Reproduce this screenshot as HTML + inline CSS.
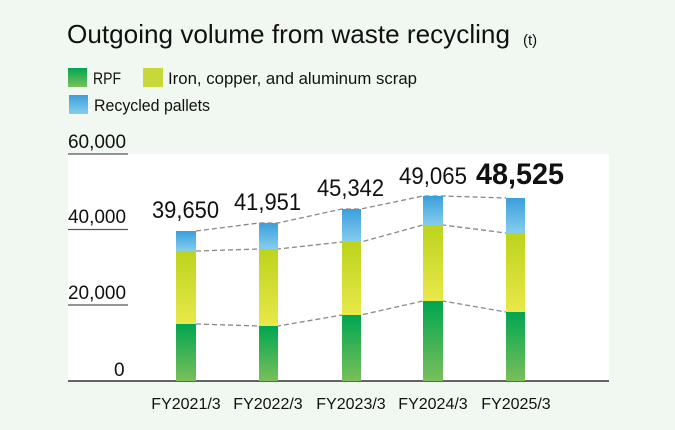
<!DOCTYPE html>
<html><head><meta charset="utf-8"><style>
body{margin:0;background:#f1f8f1;}
svg{display:block;font-family:"Liberation Sans",sans-serif;}
</style></head><body>
<svg width="675" height="430" viewBox="0 0 675 430">
<defs>
<linearGradient id="g" x1="0" y1="0" x2="0" y2="1"><stop offset="0" stop-color="#00a650"/><stop offset="1" stop-color="#7abf5a"/></linearGradient>
<linearGradient id="y" x1="0" y1="0" x2="0" y2="1"><stop offset="0" stop-color="#bcd31c"/><stop offset="1" stop-color="#e9e84a"/></linearGradient>
<linearGradient id="b" x1="0" y1="0" x2="0" y2="1"><stop offset="0" stop-color="#3a9fdc"/><stop offset="1" stop-color="#86cdec"/></linearGradient>
</defs>
<rect width="675" height="430" fill="#f1f8f1"/>
<text x="67" y="43" font-size="26" fill="#111" textLength="443" lengthAdjust="spacingAndGlyphs">Outgoing volume from waste recycling</text>
<text x="523" y="45" font-size="15" fill="#111">(t)</text>
<rect x="68" y="68" width="19" height="19" fill="url(#g)"/>
<text x="93" y="84" font-size="17" fill="#111" textLength="28" lengthAdjust="spacingAndGlyphs">RPF</text>
<rect x="143" y="68" width="20" height="19" fill="#c8d83a"/>
<text x="168" y="84" font-size="17" fill="#111" textLength="249" lengthAdjust="spacingAndGlyphs">Iron, copper, and aluminum scrap</text>
<rect x="69" y="95" width="19" height="19" fill="url(#b)"/>
<text x="94" y="111" font-size="17" fill="#111" textLength="116" lengthAdjust="spacingAndGlyphs">Recycled pallets</text>
<rect x="68" y="154" width="541" height="227" fill="#fff"/>
<g stroke="#555" stroke-width="1.2"><line x1="68" y1="154" x2="128" y2="154"/><line x1="68" y1="229.5" x2="128" y2="229.5"/><line x1="68" y1="305" x2="128" y2="305"/></g>
<line x1="68" y1="381" x2="609" y2="381" stroke="#333" stroke-width="1.5"/>
<g font-size="19" fill="#111"><text x="68" y="148" textLength="58" lengthAdjust="spacingAndGlyphs">60,000</text><text x="68" y="223" textLength="58" lengthAdjust="spacingAndGlyphs">40,000</text><text x="68" y="299" textLength="58" lengthAdjust="spacingAndGlyphs">20,000</text><text x="114" y="376">0</text></g>
<g stroke="#888" stroke-width="1.3" stroke-dasharray="5,3" fill="none">
<polyline points="196,231 259,223 278,223 342,209 361,209 423,196 443,196 506,198"/>
<polyline points="196,251 259,249 278,249 342,242 361,242 423,225 443,225 506,233"/>
<polyline points="196,324 259,326 278,326 342,315 361,315 423,301 443,301 506,312"/>
</g>
<g>
<rect x="176" y="231" width="20" height="20" fill="url(#b)"/><rect x="176" y="251" width="20" height="73" fill="url(#y)"/><rect x="176" y="324" width="20" height="57" fill="url(#g)"/>
<rect x="259" y="223" width="19" height="26" fill="url(#b)"/><rect x="259" y="249" width="19" height="77" fill="url(#y)"/><rect x="259" y="326" width="19" height="55" fill="url(#g)"/>
<rect x="342" y="209" width="19" height="33" fill="url(#b)"/><rect x="342" y="242" width="19" height="73" fill="url(#y)"/><rect x="342" y="315" width="19" height="66" fill="url(#g)"/>
<rect x="423" y="196" width="20" height="29" fill="url(#b)"/><rect x="423" y="225" width="20" height="76" fill="url(#y)"/><rect x="423" y="301" width="20" height="80" fill="url(#g)"/>
<rect x="506" y="198" width="19" height="35" fill="url(#b)"/><rect x="506" y="233" width="19" height="79" fill="url(#y)"/><rect x="506" y="312" width="19" height="69" fill="url(#g)"/>
</g>
<g font-size="24" fill="#111">
<text x="152" y="218" textLength="67" lengthAdjust="spacingAndGlyphs">39,650</text><text x="234" y="210" textLength="67" lengthAdjust="spacingAndGlyphs">41,951</text><text x="317" y="196" textLength="67" lengthAdjust="spacingAndGlyphs">45,342</text><text x="399" y="184" textLength="68" lengthAdjust="spacingAndGlyphs">49,065</text>
</g>
<text x="476" y="184" font-size="30" font-weight="bold" fill="#111" textLength="88" lengthAdjust="spacingAndGlyphs">48,525</text>
<g font-size="16" fill="#111" text-anchor="middle">
<text x="186" y="409">FY2021/3</text><text x="268" y="409">FY2022/3</text><text x="351" y="409">FY2023/3</text><text x="433" y="409">FY2024/3</text><text x="516" y="409">FY2025/3</text>
</g>
</svg>
</body></html>
